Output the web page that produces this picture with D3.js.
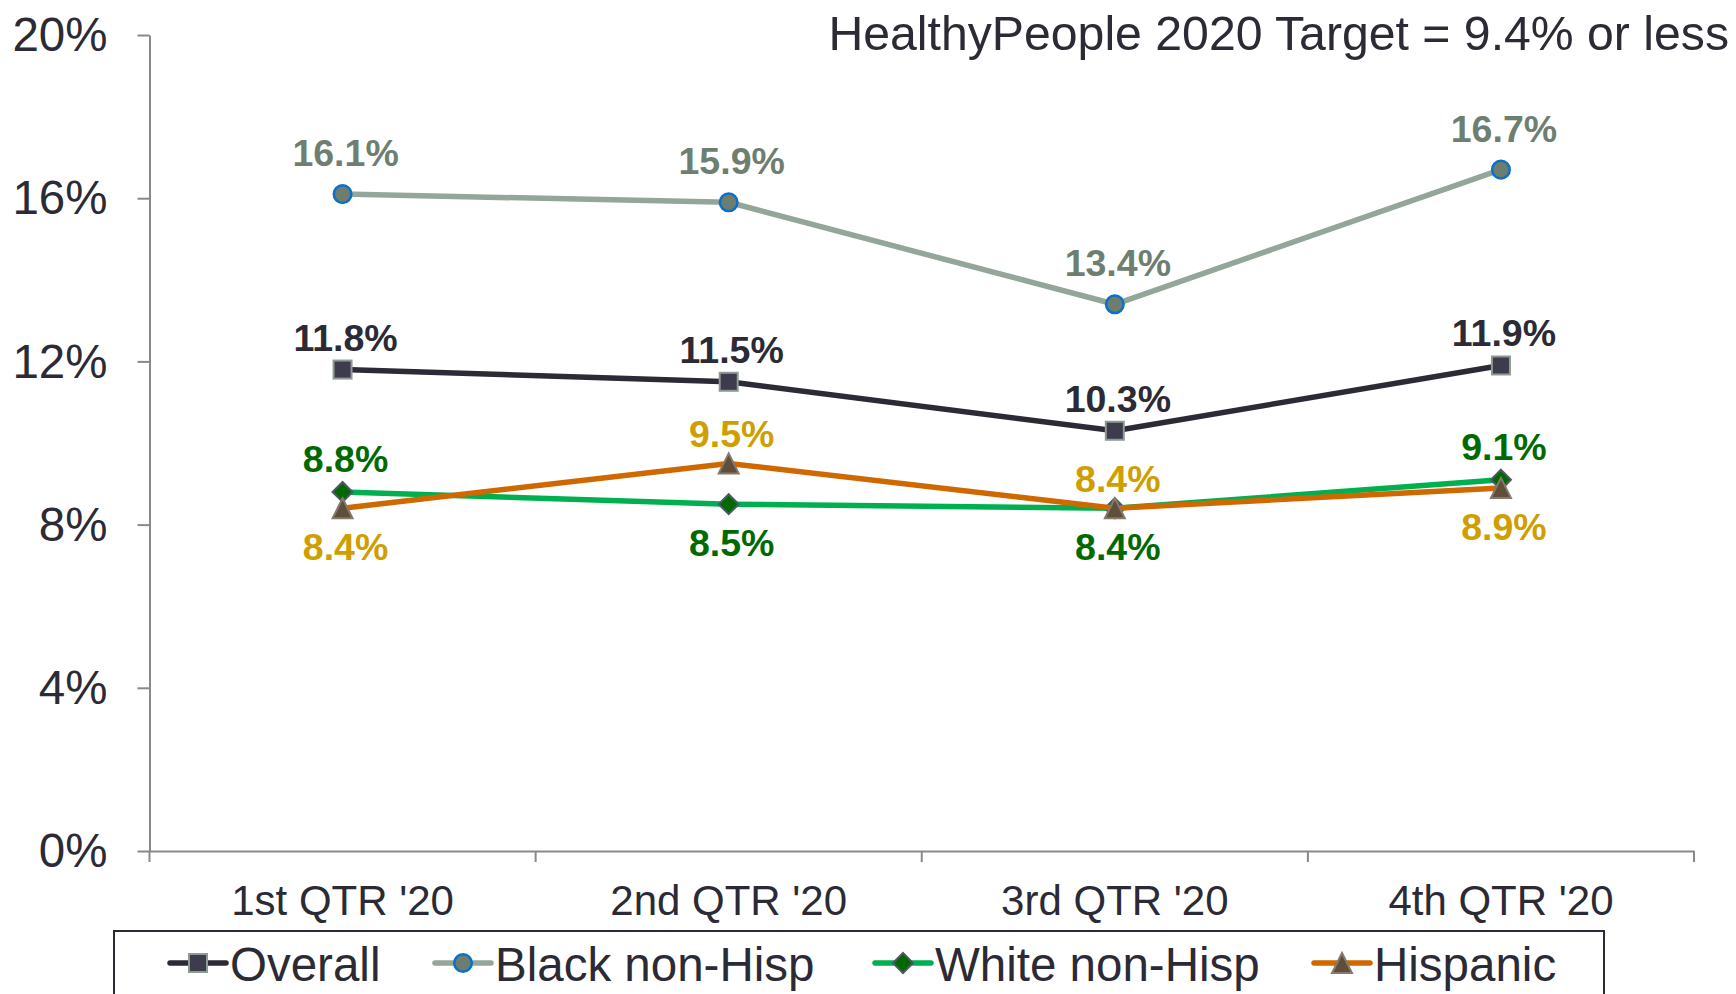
<!DOCTYPE html>
<html>
<head>
<meta charset="utf-8">
<script src="https://cdn.jsdelivr.net/npm/d3@7"></script>
<style>
  html, body { margin: 0; padding: 0; background: #fff; }
  svg { display: block; font-family: "Liberation Sans", Arial, sans-serif; }
</style>
</head>
<body>
<svg id="chart" width="1736" height="994"></svg>
<script>
// ---- data ----
const categories = ["1st QTR '20", "2nd QTR '20", "3rd QTR '20", "4th QTR '20"];
const overall   = [11.8, 11.5, 10.3, 11.9];
const blackNH   = [16.1, 15.9, 13.4, 16.7];
const whiteNH   = [8.8, 8.5, 8.4, 9.1];
const hispanic  = [8.4, 9.5, 8.4, 8.9];
const overallLabelPos  = ["above", "above", "above", "above"];
const blackLabelPos    = ["above", "above", "above", "above"];
const whiteLabelPos    = ["above", "below", "below", "above"];
const hispanicLabelPos = ["below", "above", "above", "below"];
const yTicks = [0, 4, 8, 12, 16, 20];
const titleText = "HealthyPeople 2020 Target = 9.4% or less";

// ---- styles ----
const series = [
  { name: "Overall", values: overall, pos: overallLabelPos, line: "#2b2a35", fill: "#3d3b4d", stroke: "#8c9c90", label: "#2b2a35", shape: "square", above: -19 },
  { name: "Black non-Hisp", values: blackNH, pos: blackLabelPos, line: "#94a599", fill: "#6d7d70", stroke: "#0a70c8", label: "#6e7f71", shape: "circle", above: -28 },
  { name: "White non-Hisp", values: whiteNH, pos: whiteLabelPos, line: "#00b050", fill: "#006a00", stroke: "#4f5866", label: "#006a00", shape: "diamond", above: -20 },
  { name: "Hispanic", values: hispanic, pos: hispanicLabelPos, line: "#d06800", fill: "#5f4f3a", stroke: "#857a6c", label: "#cf9e00", shape: "triangle", above: -16 }
];

(function () {
const svg = d3.select("#chart");
const plotLeft = 149.5, plotRight = 1694, plotTop = 35, plotBottom = 851;
const axisColor = "#898989";
const textColor = "#2b2a35";

const x = d3.scaleBand().domain(categories).range([plotLeft, plotRight]).paddingInner(0).paddingOuter(0);
const y = d3.scaleLinear().domain([0, 20]).range([plotBottom, plotTop]);
const cx = c => x(c) + x.bandwidth() / 2;

// y axis
const yAxis = svg.append("g").attr("transform", `translate(${plotLeft},0)`)
  .call(d3.axisLeft(y).tickValues(yTicks).tickFormat(d => d + "%").tickSize(12).tickSizeOuter(0).tickPadding(30));
yAxis.select(".domain").attr("stroke", axisColor).attr("stroke-width", 2);
yAxis.selectAll(".tick line").attr("stroke", axisColor).attr("stroke-width", 2);
yAxis.selectAll(".tick text").attr("fill", textColor).attr("font-size", 47.5).attr("font-family", "Liberation Sans, Arial, sans-serif").attr("dy", "0.33em");

// x axis
const xAxis = svg.append("g").attr("transform", `translate(0,${plotBottom})`)
  .call(d3.axisBottom(x).tickSize(0).tickSizeOuter(0).tickPadding(0));
xAxis.select(".domain").attr("stroke", axisColor).attr("stroke-width", 2);
xAxis.selectAll(".tick text").attr("fill", textColor).attr("font-size", 42)
  .attr("font-family", "Liberation Sans, Arial, sans-serif").attr("y", 64).attr("dy", 0);
const boundaries = categories.map(c => x(c)).concat([x(categories[categories.length - 1]) + x.bandwidth()]);
xAxis.selectAll("line.bound").data(boundaries).enter().append("line")
  .attr("class", "bound").attr("x1", d => d).attr("x2", d => d).attr("y1", 0).attr("y2", 11)
  .attr("stroke", axisColor).attr("stroke-width", 2);

// title
svg.append("text").attr("x", 1729).attr("y", 50).attr("text-anchor", "end")
  .attr("font-size", 48.2).attr("fill", textColor).text(titleText);

// markers
function drawMarker(g, shape, px, py, s, size) {
  const h = size / 2;
  let el;
  if (shape === "square") {
    el = g.append("rect").attr("x", px - h + 1).attr("y", py - h + 1).attr("width", size - 2).attr("height", size - 2);
  } else if (shape === "circle") {
    el = g.append("circle").attr("cx", px).attr("cy", py).attr("r", h - 1.2);
  } else if (shape === "diamond") {
    el = g.append("path").attr("d", `M${px},${py - h}L${px + h},${py}L${px},${py + h}L${px - h},${py}Z`);
  } else {
    el = g.append("path").attr("d", `M${px},${py - h}L${px + h},${py + h}L${px - h},${py + h}Z`);
  }
  el.attr("fill", s.fill).attr("stroke", s.stroke).attr("stroke-width", shape === "circle" ? 2.5 : 2);
}

const line = d3.line().x((d, i) => cx(categories[i])).y(d => y(d));
series.forEach(s => {
  const g = svg.append("g");
  g.append("path").datum(s.values).attr("d", line).attr("fill", "none")
    .attr("stroke", s.line).attr("stroke-width", 5.5).attr("stroke-linejoin", "round");
  s.values.forEach((v, i) => drawMarker(g, s.shape, cx(categories[i]), y(v), s, 20));
});

// data labels
series.forEach(s => {
  svg.append("g").selectAll("text").data(s.values).enter().append("text")
    .attr("x", (d, i) => cx(categories[i]) + 3)
    .attr("y", (d, i) => y(d) + (s.pos[i] === "above" ? s.above : 52))
    .attr("text-anchor", "middle").attr("font-size", 37.5).attr("font-weight", "bold")
    .attr("fill", s.label).text(d => d.toFixed(1) + "%");
});

// legend
svg.append("rect").attr("x", 114).attr("y", 931).attr("width", 1490).attr("height", 90)
  .attr("fill", "none").attr("stroke", textColor).attr("stroke-width", 2);
const legendStarts = [170, 435, 875, 1314];
const ly = 963;
series.forEach((s, i) => {
  const g = svg.append("g");
  const x0 = legendStarts[i];
  g.append("line").attr("x1", x0).attr("x2", x0 + 56).attr("y1", ly).attr("y2", ly)
    .attr("stroke", s.line).attr("stroke-width", 5.5).attr("stroke-linecap", "round");
  drawMarker(g, s.shape, x0 + 28, ly, s, 20);
  g.append("text").attr("x", x0 + 60).attr("y", 981).attr("font-size", 47.5).attr("fill", textColor).text(s.name);
});
})();
</script>
</body>
</html>
